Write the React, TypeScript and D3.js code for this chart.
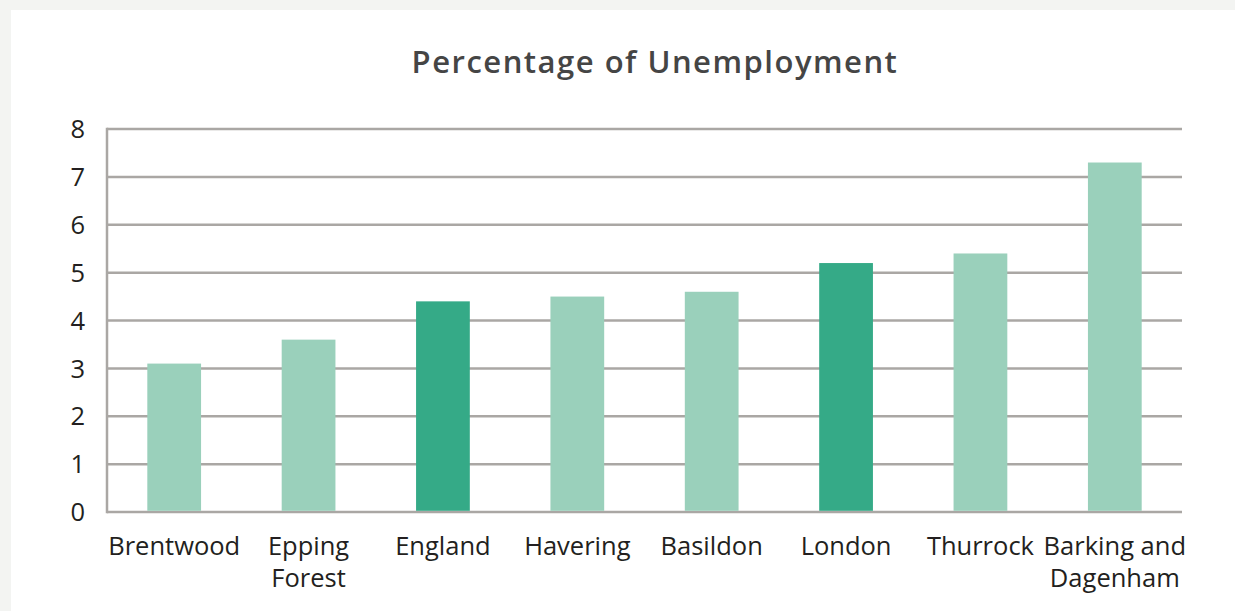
import React from "react";
import * as d3 from "d3";

const categories: string[][] = [
  ["Brentwood"],
  ["Epping", "Forest"],
  ["England"],
  ["Havering"],
  ["Basildon"],
  ["London"],
  ["Thurrock"],
  ["Barking and", "Dagenham"],
];
const values: number[] = [3.1, 3.6, 4.4, 4.5, 4.6, 5.2, 5.4, 7.3];
const highlighted: boolean[] = [false, false, true, false, false, true, false, false];
const yTicks: number[] = [0, 1, 2, 3, 4, 5, 6, 7, 8];
const title = "Percentage of Unemployment";

const W = 1235;
const H = 611;
const plotLeft = 107;
const plotRight = 1182;
const plotTop = 129;
const plotBottom = 512;

export default function App() {
  const keys = categories.map((c) => c.join(" "));
  const x = d3.scaleBand<string>().domain(keys).range([plotLeft, plotRight]).paddingInner(0.6).paddingOuter(0.3);
  const y = d3.scaleLinear().domain([0, 8]).range([plotBottom, plotTop]);
  const labelFont = "'Open Sans', 'Noto Sans', sans-serif";
  const gridColor = "#aaa7a4";
  return (
    <svg width={W} height={H} style={{ position: "absolute", left: 0, top: 0 }}>
      <rect x={0} y={0} width={W} height={H} fill="#f3f4f2" />
      <rect x={11} y={10} width={W} height={H} fill="#ffffff" />
      <text x={655} y={73} textAnchor="middle" fontFamily="'Open Sans', sans-serif" fontWeight={600} fontSize={31} letterSpacing={1.5} fill="#454545">
        {title}
      </text>
      {yTicks.map((t) => (
        <g key={t}>
          <line x1={plotLeft} x2={plotRight} y1={y(t)} y2={y(t)} stroke={gridColor} strokeWidth={2.5} />
          <text x={85} y={y(t)} dy="0.36em" textAnchor="end" fontFamily={labelFont} fontSize={25.5} fill="#231f20">
            {t}
          </text>
        </g>
      ))}
      <line x1={plotLeft} x2={plotLeft} y1={y(8) - 1.2} y2={y(0) + 1.2} stroke={gridColor} strokeWidth={2.5} />
      {values.map((v, i) => (
        <rect
          key={keys[i]}
          x={x(keys[i])}
          width={x.bandwidth()}
          y={y(v)}
          height={y(0) - y(v) - 1.2}
          fill={highlighted[i] ? "#35aa87" : "#9ad0bb"}
        />
      ))}
      {categories.map((lines, i) => (
        <text
          key={keys[i]}
          x={(x(keys[i]) as number) + x.bandwidth() / 2}
          y={555}
          textAnchor="middle"
          fontFamily={labelFont}
          fontSize={25.5}
          fill="#231f20"
        >
          {lines.map((l, j) => (
            <tspan key={j} x={(x(keys[i]) as number) + x.bandwidth() / 2} dy={j === 0 ? 0 : 32}>
              {l}
            </tspan>
          ))}
        </text>
      ))}
    </svg>
  );
}
